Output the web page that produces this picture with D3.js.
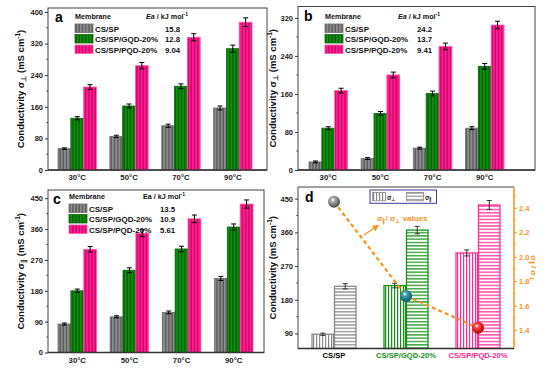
<!DOCTYPE html>
<html><head><meta charset="utf-8">
<script src="https://cdn.jsdelivr.net/npm/d3@7"></script>
<style>
html,body{margin:0;padding:0;background:#fff;}
svg{display:block;font-family:"Liberation Sans",Arial,sans-serif;font-weight:bold;}
</style></head>
<body>
<svg id="c" width="554" height="369"></svg>
<script>
// ---------- data ----------
const temps = ["30°C", "50°C", "70°C", "90°C"];
const membranes = ["CS/SP", "CS/SP/GQD-20%", "CS/SP/PQD-20%"];

const aEa = ["15.8", "12.8", "9.04"];
const aCSSP = [54, 85, 112, 157];
const aGQD  = [131, 162, 212, 307];
const aPQD  = [210, 264, 336, 374];
const aErrCSSP = [2, 3, 4, 5];
const aErrGQD  = [4, 5, 6, 9];
const aErrPQD  = [6, 8, 9, 11];

const bEa = ["24.2", "13.7", "9.41"];
const bCSSP = [17, 24, 46, 88];
const bGQD  = [88, 119, 161, 218];
const bPQD  = [167, 200, 260, 305];
const bErrCSSP = [2, 2, 2, 3];
const bErrGQD  = [3, 4, 5, 6];
const bErrPQD  = [5, 6, 7, 8];

const cEa = ["13.5", "10.9", "5.61"];
const cCSSP = [83, 104, 117, 216];
const cGQD  = [180, 240, 302, 366];
const cPQD  = [301, 348, 390, 433];
const cErrCSSP = [3, 3, 4, 6];
const cErrGQD  = [5, 7, 8, 9];
const cErrPQD  = [8, 10, 11, 12];

const dPerp = [88, 218, 305];
const dPar  = [216, 366, 433];
const dErrPerp = [3, 6, 8];
const dErrPar  = [7, 10, 12];
const dRatio = [2.45, 1.68, 1.42];

const aTicks = [0, 80, 160, 240, 320, 400];
const bTicks = [0, 80, 160, 240, 320];
const cTicks = [0, 90, 180, 270, 360, 450];
const dTicks = [90, 180, 270, 360, 450];
const dRTicks = [1.4, 1.6, 1.8, 2.0, 2.2, 2.4];

// ---------- styles ----------
const svg = d3.select("#c");
const defs = svg.append("defs");
const seriesStyle = [
  {base:"#8c8c8c", stripe:"#4a4a4a", edge:"#6e6e6e", line:"#8a8a8a", text:"#000"},
  {base:"#0f8f0f", stripe:"#005200", edge:"#0a6a0a", line:"#169316", text:"#1a8c1a"},
  {base:"#ff1d8e", stripe:"#b8005e", edge:"#ff5aa8", line:"#ff2f96", text:"#ff1d8e"}
];
seriesStyle.forEach((s,i)=>{
  const p = defs.append("pattern").attr("id","pv"+i).attr("patternUnits","userSpaceOnUse")
    .attr("width",3.2).attr("height",4);
  p.append("rect").attr("width",3.2).attr("height",4).attr("fill",s.base);
  p.append("rect").attr("x",2).attr("width",1).attr("height",4).attr("fill",s.stripe);
  const q = defs.append("pattern").attr("id","dv"+i).attr("patternUnits","userSpaceOnUse")
    .attr("width",3).attr("height",4);
  q.append("rect").attr("width",3).attr("height",4).attr("fill","#fff");
  q.append("rect").attr("x",1).attr("width",1.2).attr("height",4).attr("fill",s.line);
  const h = defs.append("pattern").attr("id","dh"+i).attr("patternUnits","userSpaceOnUse")
    .attr("width",4).attr("height",3.3);
  h.append("rect").attr("width",4).attr("height",3.3).attr("fill","#fff");
  h.append("rect").attr("y",1).attr("height",1.2).attr("width",4).attr("fill",s.line);
});
defs.append("marker").attr("id","arr").attr("viewBox","0 0 10 10").attr("refX",8).attr("refY",5)
  .attr("markerWidth",5).attr("markerHeight",5).attr("orient","auto")
  .append("path").attr("d","M0,0 L10,5 L0,10 z").attr("fill","#f7941d");
function ballGrad(id, c1, c2){
  const g = defs.append("radialGradient").attr("id",id).attr("cx","40%").attr("cy","35%").attr("r","65%");
  g.append("stop").attr("offset","0%").attr("stop-color","#fff");
  g.append("stop").attr("offset","30%").attr("stop-color",c1);
  g.append("stop").attr("offset","100%").attr("stop-color",c2);
}
ballGrad("b0","#a8a8a8","#4a4a4a");
ballGrad("b1","#3a9fa8","#065a66");
ballGrad("b2","#ff4040","#b00000");

function yLabel(g, x, y, parts){
  const t = g.append("text").attr("transform",`translate(${x},${y}) rotate(-90)`)
    .attr("text-anchor","middle").attr("font-size",9.5).attr("fill","#111");
  parts.forEach(p=>{
    const ts = t.append("tspan").text(p.t);
    if(p.sub){ ts.attr("font-size",6.5).attr("dy",2); }
    else if(p.sup){ ts.attr("font-size",6.5).attr("dy",-4); }
    if(p.after) ts.attr("dy",p.after);
  });
  return t;
}

function leftAxis(g, y, ticks, x0, minorStep){
  const ax = g.append("g").attr("transform",`translate(${x0},0)`)
    .call(d3.axisLeft(y).tickValues(ticks).tickSize(3).tickPadding(2).tickFormat(d3.format("d")));
  ax.select(".domain").remove();
  ax.selectAll("text").attr("font-size",7.5).attr("font-weight","bold").attr("fill","#222").attr("font-family","Liberation Sans, Arial");
  ax.selectAll("line").attr("stroke","#333");
  const dom = y.domain();
  const minors = d3.range(Math.ceil(dom[0]/minorStep)*minorStep, dom[1], minorStep).filter(v=>!ticks.some(t=>Math.abs(t-v)<1e-6));
  g.selectAll(null).data(minors).enter().append("line")
    .attr("x1",x0-1.8).attr("x2",x0).attr("y1",d=>y(d)).attr("y2",d=>y(d)).attr("stroke","#333").attr("stroke-width",0.8);
}

function barPanel(cfg){
  const g = svg.append("g");
  const {L,R,T,B} = cfg;
  const y = d3.scaleLinear().domain([0,cfg.ymax]).range([B,T]);
  const x = d3.scaleBand().domain(temps).range(cfg.grp).paddingInner(0.26).paddingOuter(0);
  const xs = d3.scaleBand().domain([0,1,2]).range([0,x.bandwidth()]);
  g.append("rect").attr("x",L).attr("y",T).attr("width",R-L).attr("height",B-T)
    .attr("fill","none").attr("stroke","#444").attr("stroke-width",1);
  leftAxis(g, y, cfg.ticks, L, cfg.ticks[1]/2);
  cfg.series.forEach((vals,si)=>{
    const st = seriesStyle[si];
    vals.forEach((v,i)=>{
      const bx = x(temps[i]) + xs(si);
      g.append("rect").attr("x",bx).attr("y",y(v)).attr("width",xs.bandwidth()).attr("height",B-y(v))
        .attr("fill",`url(#pv${si})`).attr("stroke",st.edge).attr("stroke-width",0.8);
      const e = cfg.errs[si][i], cx = bx + xs.bandwidth()/2;
      g.append("line").attr("x1",cx).attr("x2",cx).attr("y1",y(v+e)).attr("y2",y(v-e)).attr("stroke","#000").attr("stroke-width",1);
      [v+e, v-e].forEach(w=>g.append("line").attr("x1",cx-2.5).attr("x2",cx+2.5).attr("y1",y(w)).attr("y2",y(w)).attr("stroke","#000").attr("stroke-width",1));
    });
  });
  g.append("line").attr("x1",L).attr("x2",R).attr("y1",B).attr("y2",B).attr("stroke","#333").attr("stroke-width",1.6);
  temps.forEach(t=>{
    g.append("text").attr("x",x(t)+x.bandwidth()/2).attr("y",B+10).attr("text-anchor","middle")
      .attr("font-size",7.8).attr("fill","#222").text(t);
  });
  g.append("text").attr("x",cfg.lab[0]).attr("y",cfg.lab[1]).attr("font-size",14).attr("fill","#000").text(cfg.letter);
  const lg = cfg.leg;
  g.append("text").attr("x",lg.x).attr("y",lg.y).attr("font-size",7.2).attr("fill","#111").text("Membrane");
  const ea = g.append("text").attr("x",lg.ex).attr("y",lg.y).attr("font-size",7.2).attr("fill","#111");
  ea.append("tspan").attr("font-style",cfg.eaItalic?"italic":"normal").text("Ea");
  ea.append("tspan").text(" / kJ mol");
  ea.append("tspan").attr("font-size",5).attr("dy",-3).text("-1");
  membranes.forEach((m,i)=>{
    const ry = lg.y + 5 + i*10.5;
    g.append("rect").attr("x",lg.x).attr("y",ry).attr("width",18).attr("height",8.5)
      .attr("fill",`url(#pv${i})`).attr("stroke",seriesStyle[i].edge).attr("stroke-width",0.8);
    g.append("text").attr("x",lg.x+20).attr("y",ry+7.5).attr("font-size",8).attr("fill","#111").text(m);
    g.append("text").attr("x",lg.vx).attr("y",ry+7.5).attr("font-size",7.8).attr("fill","#111").text(cfg.ea[i]);
  });
  yLabel(g, cfg.ylx, (T+B)/2, cfg.ylab);
}

barPanel({L:48,R:267,T:8,B:170,ymax:410,ticks:aTicks,grp:[58,252],
  series:[aCSSP,aGQD,aPQD],errs:[aErrCSSP,aErrGQD,aErrPQD],letter:"a",lab:[55,22],
  leg:{x:75,y:19,ex:146,vx:165},ea:aEa,eaItalic:true,ylx:24,
  ylab:[{t:"Conductivity "},{t:"σ"},{t:"⊥",sub:true},{t:" (mS cm",after:-2},{t:"-1",sup:true},{t:")",after:4}]});

barPanel({L:298,R:535,T:6.5,B:170,ymax:344,ticks:bTicks,grp:[309,504],
  series:[bCSSP,bGQD,bPQD],errs:[bErrCSSP,bErrGQD,bErrPQD],letter:"b",lab:[304,21],
  leg:{x:325,y:19,ex:398,vx:417},ea:bEa,eaItalic:true,ylx:276,
  ylab:[{t:"Conductivity "},{t:"σ"},{t:"⊥",sub:true},{t:" (mS cm",after:-2},{t:"-1",sup:true},{t:")",after:4}]});

barPanel({L:48,R:264,T:190,B:352.5,ymax:474,ticks:cTicks,grp:[58,253],
  series:[cCSSP,cGQD,cPQD],errs:[cErrCSSP,cErrGQD,cErrPQD],letter:"c",lab:[53,204],
  leg:{x:69,y:199,ex:143,vx:160},ea:cEa,eaItalic:false,ylx:24,
  ylab:[{t:"Conductivity "},{t:"σ"},{t:"∥",sub:true},{t:" (mS cm",after:-2},{t:"-1",sup:true},{t:")",after:4}]});

// ---------- panel d ----------
(function(){
  const g = svg.append("g");
  const L=298,R=514,T=187,B=348.5;
  const y = d3.scaleLinear().domain([50,481]).range([B,T]);
  const yr = d3.scaleLinear().domain([1.25,2.57]).range([B,T]);
  const x = d3.scalePoint().domain(membranes).range([L,R]).padding(0.5);
  const bw = 22.5;
  g.append("line").attr("x1",L).attr("x2",R).attr("y1",T).attr("y2",T).attr("stroke","#444");
  g.append("line").attr("x1",L).attr("x2",L).attr("y1",T).attr("y2",B).attr("stroke","#444");
  leftAxis(g, y, dTicks, L, 45);
  const ra = g.append("g").attr("transform",`translate(${R},0)`)
    .call(d3.axisRight(yr).tickValues(dRTicks).tickSize(3).tickPadding(2).tickFormat(d3.format(".1f")));
  ra.select(".domain").remove();
  ra.selectAll("line").attr("stroke","#f7941d");
  ra.selectAll("text").attr("font-size",7.5).attr("font-weight","bold").attr("fill","#f7941d").attr("font-family","Liberation Sans, Arial");
  const rminor = [1.3,1.5,1.7,1.9,2.1,2.3,2.5];
  g.selectAll(null).data(rminor).enter().append("line").attr("x1",R).attr("x2",R+1.8)
    .attr("y1",d=>yr(d)).attr("y2",d=>yr(d)).attr("stroke","#f7941d").attr("stroke-width",0.8);
  g.append("line").attr("x1",R).attr("x2",R).attr("y1",T).attr("y2",B).attr("stroke","#f7941d").attr("stroke-width",1.5);
  membranes.forEach((m,i)=>{
    const st = seriesStyle[i], cx = x(m);
    [[dPerp[i],dErrPerp[i],cx-bw,"dv"],[dPar[i],dErrPar[i],cx,"dh"]].forEach(([v,e,bx,pid])=>{
      g.append("rect").attr("x",bx+0.5).attr("y",y(v)).attr("width",bw-1).attr("height",B-y(v))
        .attr("fill",`url(#${pid}${i})`).attr("stroke",st.line).attr("stroke-width",1.3);
      const ex = bx + bw/2;
      g.append("line").attr("x1",ex).attr("x2",ex).attr("y1",y(v+e)).attr("y2",y(v-e)).attr("stroke","#333").attr("stroke-width",1);
      [v+e,v-e].forEach(w=>g.append("line").attr("x1",ex-2.5).attr("x2",ex+2.5).attr("y1",y(w)).attr("y2",y(w)).attr("stroke","#333").attr("stroke-width",1));
    });
    g.append("text").attr("x",cx).attr("y",B+9).attr("text-anchor","middle").attr("font-size",7.6)
      .attr("fill",st.text).text(m);
  });
  g.append("line").attr("x1",L).attr("x2",R).attr("y1",B).attr("y2",B).attr("stroke","#333").attr("stroke-width",1.6);
  const line = d3.line().x((d,i)=>x(membranes[i])).y(d=>yr(d));
  g.append("path").attr("d",line(dRatio)).attr("fill","none").attr("stroke","#f7941d")
    .attr("stroke-width",2.2).attr("stroke-dasharray","4,3");
  dRatio.forEach((r,i)=>{
    g.append("circle").attr("cx",x(membranes[i])).attr("cy",yr(r)).attr("r",6).attr("fill",`url(#b${i})`);
  });
  const at = g.append("text").attr("x",377).attr("y",221).attr("font-size",8).attr("fill","#f7941d");
  at.append("tspan").text("σ");
  at.append("tspan").attr("font-size",5.5).attr("dy",1.5).text("∥");
  at.append("tspan").attr("dy",-1.5).text("/ σ");
  at.append("tspan").attr("font-size",5.5).attr("dy",1.5).text("⊥");
  at.append("tspan").attr("dy",-1.5).text(" values");
  g.append("line").attr("x1",364).attr("y1",235).attr("x2",378).attr("y2",225.5)
    .attr("stroke","#f7941d").attr("stroke-width",1.3).attr("marker-end","url(#arr)");
  g.append("rect").attr("x",370).attr("y",190).attr("width",66.5).attr("height",13.3)
    .attr("fill","#fff").attr("stroke","#3b3b9a").attr("stroke-width",1);
  g.append("rect").attr("x",372.5).attr("y",192.5).attr("width",13).attr("height",8.3)
    .attr("fill","url(#dv0)").attr("stroke","#8a8a8a").attr("stroke-width",0.8);
  const l1 = g.append("text").attr("x",387).attr("y",199.5).attr("font-size",6.5).attr("fill","#222");
  l1.append("tspan").text("σ"); l1.append("tspan").attr("font-size",4.5).attr("dy",1).text("⊥");
  g.append("rect").attr("x",406.5).attr("y",192.5).attr("width",17).attr("height",8.3)
    .attr("fill","url(#dh0)").attr("stroke","#8a8a8a").attr("stroke-width",0.8);
  const l2 = g.append("text").attr("x",425).attr("y",199.5).attr("font-size",6.5).attr("fill","#222");
  l2.append("tspan").text("σ"); l2.append("tspan").attr("font-size",4.5).attr("dy",1).text("∥");
  g.append("text").attr("x",305).attr("y",202).attr("font-size",14).attr("fill","#000").text("d");
  yLabel(g, 276, (T+B)/2, [{t:"Conductivity (mS cm"},{t:"-1",sup:true},{t:")",after:4}]);
  const rl = g.append("text").attr("transform",`translate(531,268) rotate(90)`).attr("text-anchor","middle")
    .attr("font-size",8).attr("fill","#f7941d");
  rl.append("tspan").text("σ"); rl.append("tspan").attr("font-size",5.5).attr("dy",1.5).text("∥");
  rl.append("tspan").attr("dy",-1.5).text(" / σ"); rl.append("tspan").attr("font-size",5.5).attr("dy",1.5).text("⊥");
})();
</script>
</body></html>
